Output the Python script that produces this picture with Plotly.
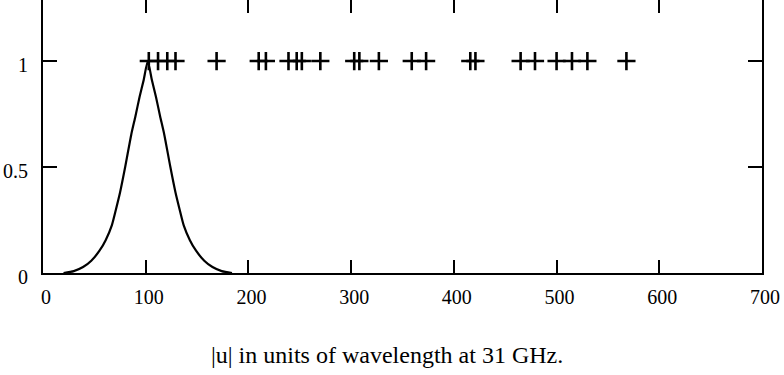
import plotly.graph_objects as go

# Beam-like curve
curve_x = [20, 30, 39, 47, 55, 61, 67, 71, 75, 80, 86, 90, 94, 98, 102,
           106, 110, 114, 118, 124, 129, 133, 137, 143, 149, 157, 165, 174, 184]
curve_y = [0.0, 0.009, 0.028, 0.058, 0.105, 0.155, 0.225, 0.30, 0.38, 0.50, 0.655, 0.74, 0.83, 0.91, 1.0,
           0.91, 0.83, 0.74, 0.655, 0.50, 0.38, 0.30, 0.225, 0.155, 0.105, 0.058, 0.028, 0.009, 0.0]

# Sampled |u| positions (plus markers)
uv_x = [103, 112, 121, 129, 169, 210, 217, 239, 247, 252, 270, 303, 308, 327,
        359, 373, 416, 421, 465, 479, 500, 515, 530, 568]
uv_y = [1.0] * len(uv_x)

x_ticks = [0, 100, 200, 300, 400, 500, 600, 700]
y_ticks = [0, 0.5, 1]
y_tick_text = ["0", "0.5", "1"]
xlabel = "|u| in units of wavelength at 31 GHz."

FONT = "Liberation Serif, Times New Roman, serif"

fig = go.Figure()
fig.add_trace(go.Scatter(x=curve_x, y=curve_y, mode="lines",
                         line=dict(color="black", width=2.2, shape="spline", smoothing=0.6),
                         showlegend=False, hoverinfo="skip"))
fig.add_trace(go.Scatter(x=uv_x, y=uv_y, mode="markers", xaxis="x2",
                         marker=dict(symbol="cross-thin", size=13,
                                     line=dict(color="black", width=2.6)),
                         showlegend=False, hoverinfo="skip"))

fig.update_layout(
    width=784, height=375,
    margin=dict(l=43, r=22, t=0, b=102),
    paper_bgcolor="white", plot_bgcolor="white",
    font=dict(family=FONT, size=20, color="black"),
    xaxis=dict(range=[0, 700], tickvals=x_ticks, ticktext=[str(v) for v in x_ticks],
               ticks="inside", ticklen=13, tickwidth=2, tickcolor="black",
               showline=True, linewidth=2, linecolor="black", mirror=False,
               showgrid=False, zeroline=False, ticklabelstandoff=5,
               ticklabelshift=3),
    xaxis2=dict(range=[0, 700], matches="x", overlaying="x", side="top",
                tickvals=x_ticks, ticks="inside", ticklen=13, tickwidth=2,
                tickcolor="black", showline=False, showticklabels=False,
                showgrid=False, zeroline=False),
    yaxis=dict(range=[0, 1.288], tickvals=y_ticks, ticktext=y_tick_text,
               ticks="inside", ticklen=14, tickwidth=2, tickcolor="black",
               showline=True, linewidth=2, linecolor="black", mirror="ticks",
               showgrid=False, zeroline=False, ticklabelstandoff=9,
               ticklabelshift=4),
    annotations=[dict(text=xlabel, x=0.478, y=-0.30, xref="paper", yref="paper",
                      xanchor="center", yanchor="middle", showarrow=False,
                      font=dict(family=FONT, size=24, color="black"))],
)

fig.write_html("out.html")
